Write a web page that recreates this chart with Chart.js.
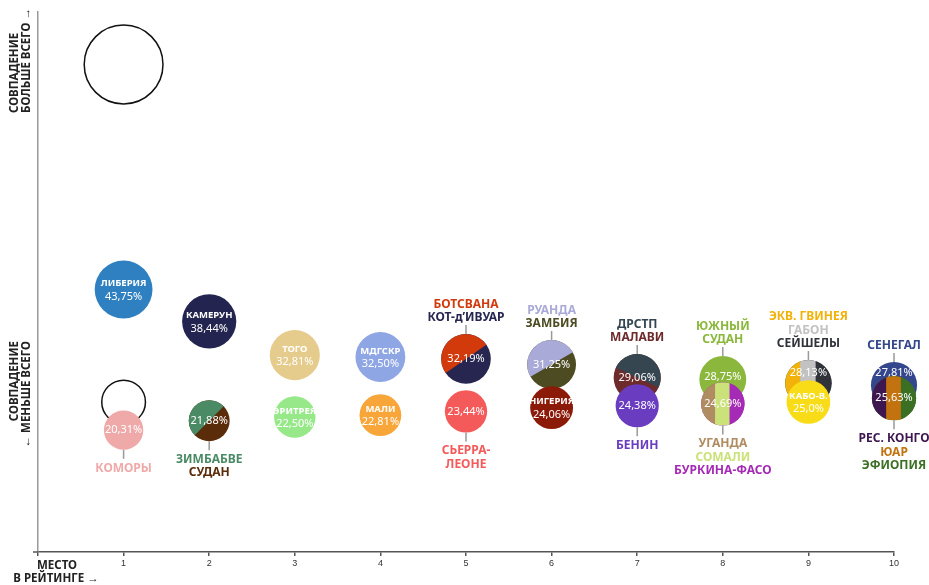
<!DOCTYPE html>
<html>
<head>
<meta charset="utf-8">
<script src="https://cdn.jsdelivr.net/npm/chart.js@4.4.1/dist/chart.umd.min.js"></script>
<style>
    html, body { margin: 0; padding: 0; background: #fff; }
    #wrap { width: 929px; height: 585px; position: relative; }
</style>
</head>
<body>
<div id="wrap"><canvas id="rating-chart"></canvas></div>
<script>
// место в рейтинге
const ranks = [1, 2, 3, 4, 5, 6, 7, 8, 9, 10];

// верхний ряд (большее совпадение)
const upperValues = [43.75, 38.44, 32.81, 32.50, 32.19, 31.25, 29.06, 28.75, 28.13, 27.81];
const upperCountries = [
    ['ЛИБЕРИЯ'], ['КАМЕРУН'], ['ТОГО'], ['МДГСКР'],
    ['БОТСВАНА', 'КОТ-д’ИВУАР'], ['РУАНДА', 'ЗАМБИЯ'], ['ДРСТП', 'МАЛАВИ'],
    ['ЮЖНЫЙ', 'СУДАН'], ['ЭКВ. ГВИНЕЯ', 'ГАБОН', 'СЕЙШЕЛЫ'], ['СЕНЕГАЛ']
];

// нижний ряд
const lowerValues = [20.31, 21.88, 22.50, 22.81, 23.44, 24.06, 24.38, 24.69, 25.0, 25.63];
const lowerCountries = [
    ['КОМОРЫ'], ['ЗИМБАБВЕ', 'СУДАН'], ['ЭРИТРЕЯ'], ['МАЛИ'], ['СЬЕРРА-', 'ЛЕОНЕ'],
    ['НИГЕРИЯ'], ['БЕНИН'], ['УГАНДА', 'СОМАЛИ', 'БУРКИНА-ФАСО'], ['КАБО-В.'],
    ['РЕС. КОНГО', 'ЮАР', 'ЭФИОПИЯ']
];

// пустые круги
const refRanks = [1, 1];
const refValues = [81.25, 25];

// подписи оси X
const xTickLabels = ['', '1', '2', '3', '4', '5', '6', '7', '8', '9', '10'];

// цвета
const upperColors = [
    ['#2e80c0'], ['#23244f'], ['#e6cc8c'], ['#8fa6e4'],
    ['#d23a0c', '#262650'], ['#aaaad8', '#4c4b22'], ['#354650', '#6d2b2b'],
    ['#8bb83c'], ['#f2b20a', '#c2c2c2', '#30343a'], ['#34468c']
];
const lowerColors = [
    ['#f0a9a9'], ['#4a8a64', '#5a2c0a'], ['#96e888'], ['#f8a63a'], ['#f55a5a'],
    ['#8c1a08'], ['#6a3cc0'], ['#b08c62', '#cbe27a', '#a52ab5'], ['#f8dc18'],
    ['#3e1650', '#c2720e', '#3b7024']
];

// расположение подписей и наклон раздела
const upperPos = ['in', 'in', 'in', 'in', 'up', 'up', 'up', 'up', 'up', 'up'];
const lowerPos = ['down', 'down', 'in', 'in', 'down', 'in', 'down', 'down', 'in', 'down'];
const upperSplit = [0, 0, 0, 0, 35, 30, -25, 0, 0, 0];
const lowerSplit = [0, 45, 0, 0, 0, 0, 0, 0, 0, 0];
const upperTextDy = [0, 0, 0, 0, 0, 0, 0, -3, -10, -12];

const FONT = '"Noto Sans", sans-serif';

function radius(v) {
    return 4.37 * Math.sqrt(v);
}

function fmt(v) {
    const s = Number.isInteger(v) ? v.toFixed(1) : v.toFixed(2);
    return s.replace('.', ',') + '%';
}

function points(values) {
    return values.map((v, i) => ({ x: ranks[i], y: v, r: radius(v) }));
}

// рисуем круг (один цвет, диагональ или полосы)
function drawCircle(ctx, x, y, r, colors, angle) {
    ctx.save();
    ctx.beginPath();
    ctx.arc(x, y, r, 0, Math.PI * 2);
    ctx.fillStyle = colors[colors.length - 1];
    ctx.fill();
    if (colors.length === 2) {
        const t = Math.abs(angle) * Math.PI / 180;
        ctx.beginPath();
        if (angle > 0) {
            ctx.arc(x, y, r, Math.PI - t, Math.PI * 2 - t);
        } else {
            ctx.arc(x, y, r, Math.PI + t, Math.PI * 2 + t);
        }
        ctx.closePath();
        ctx.fillStyle = colors[0];
        ctx.fill();
    } else if (colors.length === 3) {
        ctx.beginPath();
        ctx.arc(x, y, r, 0, Math.PI * 2);
        ctx.clip();
        const w = 2 * r / 3;
        colors.forEach((c, k) => {
            ctx.fillStyle = c;
            ctx.fillRect(x - r + k * w - 0.5, y - r, w + 1, 2 * r);
        });
    }
    ctx.restore();
}

function drawGroup(ctx, el, value, names, colors, pos, angle, dy) {
    const x = el.x, y = el.y, r = radius(value);
    drawCircle(ctx, x, y, r, colors, angle);
    ctx.save();
    ctx.textAlign = 'center';
    ctx.textBaseline = 'middle';
    ctx.fillStyle = '#fff';
    if (pos === 'in') {
        ctx.font = 'bold 9.5px ' + FONT;
        ctx.fillText(names[0], x, y - 6);
        ctx.font = '11px ' + FONT;
        ctx.fillText(fmt(value), x, y + 7);
    } else {
        ctx.font = '11px ' + FONT;
        ctx.fillText(fmt(value), x, y + (dy || 0));
        // линия к подписи
        ctx.strokeStyle = '#999';
        ctx.lineWidth = 1.5;
        ctx.beginPath();
        if (pos === 'up') {
            ctx.moveTo(x, y - r);
            ctx.lineTo(x, y - r - 9);
        } else {
            ctx.moveTo(x, y + r);
            ctx.lineTo(x, y + r + 9);
        }
        ctx.stroke();
        ctx.font = 'bold 12px ' + FONT;
        const lh = 13.3;
        names.forEach((n, k) => {
            ctx.fillStyle = names.length === colors.length ? colors[k] : colors[0];
            const ty = pos === 'up'
                ? y - r - 16.5 - (names.length - 1 - k) * lh
                : y + r + 18.5 + k * lh;
            ctx.fillText(n, x, ty);
        });
    }
    ctx.restore();
}

const circlesPlugin = {
    id: 'circles',
    afterDatasetsDraw(chart) {
        const ctx = chart.ctx;
        const up = chart.getDatasetMeta(0).data;
        const low = chart.getDatasetMeta(1).data;
        up.forEach((el, i) => {
            drawGroup(ctx, el, upperValues[i], upperCountries[i], upperColors[i], upperPos[i], upperSplit[i], upperTextDy[i]);
            drawGroup(ctx, low[i], lowerValues[i], lowerCountries[i], lowerColors[i], lowerPos[i], lowerSplit[i], 0);
        });
    },
    afterDraw(chart) {
        const ctx = chart.ctx;
        const area = chart.chartArea;
        ctx.save();
        // хвост оси X слева
        ctx.strokeStyle = '#555';
        ctx.lineWidth = 1.5;
        ctx.beginPath();
        ctx.moveTo(area.left - 5, area.bottom);
        ctx.lineTo(area.left, area.bottom);
        ctx.stroke();

        ctx.fillStyle = '#222';
        ctx.font = 'bold 11.5px ' + FONT;
        ctx.textBaseline = 'middle';
        // подписи оси Y
        ctx.save();
        ctx.translate(15, 113);
        ctx.rotate(-Math.PI / 2);
        ctx.textAlign = 'left';
        ctx.fillText('СОВПАДЕНИЕ', 0, 0);
        ctx.fillText('БОЛЬШЕ ВСЕГО →', 0, 12);
        ctx.restore();
        ctx.save();
        ctx.translate(15, 341);
        ctx.rotate(-Math.PI / 2);
        ctx.textAlign = 'right';
        ctx.fillText('СОВПАДЕНИЕ', 0, 0);
        ctx.fillText('← МЕНЬШЕ ВСЕГО', 0, 12);
        ctx.restore();
        // подпись оси X
        ctx.textAlign = 'center';
        ctx.fillText('МЕСТО', 57, 566);
        ctx.fillText('В РЕЙТИНГЕ →', 56, 579);
        ctx.restore();
    }
};

new Chart(document.getElementById('rating-chart'), {
    type: 'bubble',
    data: {
        datasets: [
            { label: 'upper', data: points(upperValues), backgroundColor: 'rgba(0,0,0,0)', borderWidth: 0 },
            { label: 'lower', data: points(lowerValues), backgroundColor: 'rgba(0,0,0,0)', borderWidth: 0 },
            {
                label: 'ref',
                data: refValues.map((v, i) => ({ x: refRanks[i], y: v, r: radius(v) })),
                backgroundColor: 'rgba(0,0,0,0)',
                borderColor: '#111',
                borderWidth: 1.5
            }
        ]
    },
    options: {
        responsive: true,
        maintainAspectRatio: false,
        animation: false,
        events: [],
        clip: false,
        layout: { autoPadding: false, padding: { left: 38, right: 35, top: 12, bottom: 0 } },
        plugins: {
            legend: { display: false },
            tooltip: { enabled: false }
        },
        scales: {
            x: {
                type: 'linear',
                min: 0,
                max: 10,
                afterFit: function (s) { s.height = 33; },
                border: { display: true, color: '#555', width: 1.5 },
                grid: { drawOnChartArea: false, drawTicks: true, tickLength: 4, color: '#555', lineWidth: 1.5 },
                ticks: {
                    stepSize: 1,
                    padding: 2,
                    color: '#333',
                    font: { family: '"Liberation Sans", Arial, sans-serif', size: 9 },
                    callback: function (v) { return xTickLabels[v]; }
                }
            },
            y: {
                type: 'linear',
                min: 0,
                max: 90,
                afterFit: function (s) { s.width = 0; },
                border: { display: true, color: '#999', width: 1.5 },
                grid: { display: false },
                ticks: { display: false }
            }
        }
    },
    plugins: [circlesPlugin]
});
</script>
</body>
</html>
